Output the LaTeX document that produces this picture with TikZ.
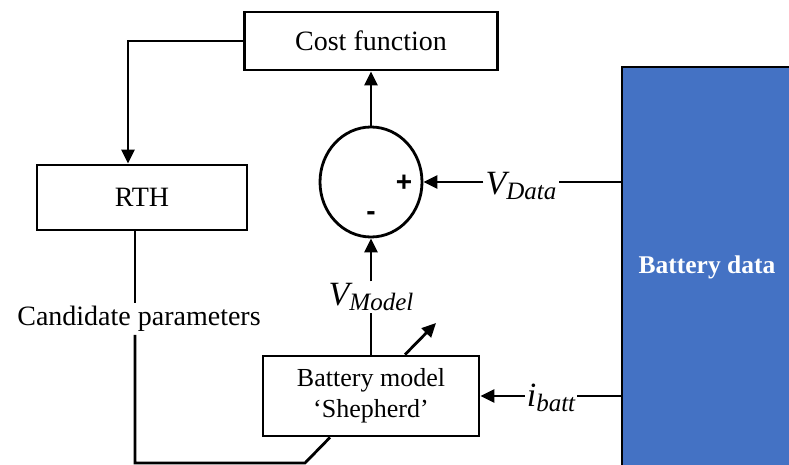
\documentclass[tikz,border=0pt]{standalone}
\usepackage{fontspec}
\setmainfont{Liberation Serif}
\newfontfamily\sansb{Liberation Sans}
\usetikzlibrary{arrows.meta,shapes.geometric}
\definecolor{battblue}{HTML}{4472C4}
\tikzset{
  box/.style={draw, line width=2.8pt, fill=white, align=center, font=\fontsize{28}{32}\selectfont},
  lbl/.style={inner sep=2pt, font=\fontsize{28}{32}\selectfont},
  wire/.style={line width=2.8pt},
  arr/.style={line width=2.8pt, -{Triangle[length=14pt,width=13pt]}},
}
\newcommand{\sig}[2]{{\fontsize{34}{36}\selectfont\itshape #1}\raisebox{-0.35ex}{\fontsize{25}{27}\selectfont\itshape #2}}
\begin{document}
\begin{tikzpicture}[x=1pt,y=-1pt]
\useasboundingbox (0,0) rectangle (789,465);
% nodes
\node[box, minimum width=253pt, minimum height=58pt] (cost) at (371,41) {Cost function};
\node[box, minimum width=210pt, minimum height=65pt] (rth) at (142,197.5) {RTH};
\node[draw, line width=2.8pt, ellipse, minimum width=102pt, minimum height=110pt, inner sep=0pt] (sum) at (371,182) {};
\node[font=\sansb\bfseries\fontsize{28}{30}\selectfont, inner sep=0pt] (plus) at (404,183) {+};
\node[font=\sansb\bfseries\fontsize{28}{30}\selectfont, inner sep=0pt] (minus) at (371,216) {-};
\node[draw, line width=2.8pt, fill=battblue, minimum width=170pt, minimum height=401pt, text=white, font=\bfseries\fontsize{25.5}{28}\selectfont] (data) at (707,267.5) {Battery data};
\node[box, minimum width=216pt, minimum height=80pt, font=\fontsize{26}{31}\selectfont] (bm) at (371,396) {Battery model\\`Shepherd'};
\node[lbl] (vdata) at (521,186) {\sig{V}{Data}};
\node[lbl] (vmodel) at (371,297) {\sig{V}{Model}};
\node[lbl] (ibatt) at (551,398) {\sig{i}{batt}};
\node[lbl, inner sep=3pt] (cand) at (139,319) {Candidate parameters};
% coordinates
\coordinate (dA) at (data.west |- sum.east);
\coordinate (dB) at (data.west |- bm.east);
\coordinate (rthTop) at ([xshift=-14pt]rth.north);
\coordinate (rthBot) at ([xshift=-7pt]rth.south);
\coordinate (bmIn) at ([xshift=-41pt]bm.south);
\coordinate (corner1) at (rthBot |- 0,463);
\coordinate (corner2) at (305,463);
\coordinate (tuneA) at ([xshift=34pt]bm.north);
\coordinate (tuneB) at (436,323);
% connectors
\draw[arr] (cost.west) -| (rthTop);
\draw[arr] (sum.north) -- (cost.south);
\draw[wire] (dA) -- (vdata.east |- dA);
\draw[arr] (vdata.west |- dA) -- (sum.east);
\draw[wire] (bm.north) -- (vmodel.south);
\draw[arr] (vmodel.north) -- (sum.south);
\draw[wire] (dB) -- (ibatt.east |- dB);
\draw[arr] (ibatt.west |- dB) -- (bm.east);
\draw[wire] (rthBot) -- (cand.north -| rthBot);
\draw[wire] (cand.south -| rthBot) -- (corner1) -- (corner2) -- (bmIn);
\draw[arr] (tuneA) -- (tuneB);
\end{tikzpicture}
\end{document}
